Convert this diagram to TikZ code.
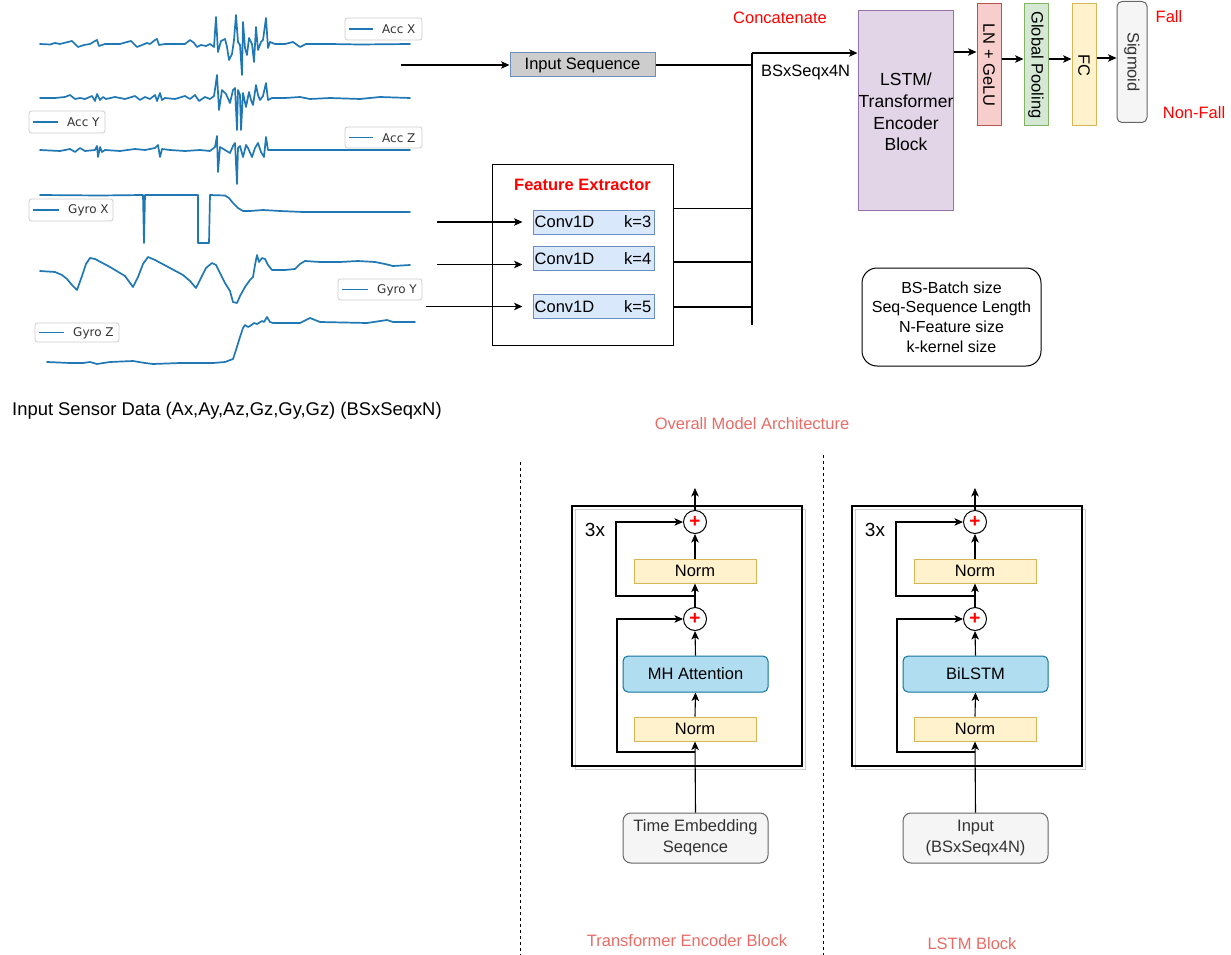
\documentclass[tikz,border=0pt]{standalone}
\usepackage{fontspec}
\setmainfont{Liberation Sans}
\newfontfamily\dejavu{DejaVu Sans}
\usetikzlibrary{arrows.meta,calc}
\definecolor{plotblue}{HTML}{1F77B4}
\definecolor{salmon}{HTML}{EA6B66}
\definecolor{dblue}{HTML}{6C8EBF}
\definecolor{lblue}{HTML}{DAE8FC}
\definecolor{ingray}{HTML}{CDCDCD}
\definecolor{purpf}{HTML}{E1D5E7}
\definecolor{purpd}{HTML}{9673A6}
\definecolor{redf}{HTML}{F8CECC}
\definecolor{redd}{HTML}{B85450}
\definecolor{greenf}{HTML}{D5E8D4}
\definecolor{greend}{HTML}{82B366}
\definecolor{yelf}{HTML}{FFF2CC}
\definecolor{yeld}{HTML}{D6B656}
\definecolor{grayf}{HTML}{F5F5F5}
\definecolor{grayd}{HTML}{666666}
\definecolor{grayt}{HTML}{333333}
\definecolor{mhf}{HTML}{B1DDF0}
\definecolor{mhd}{HTML}{10739E}
\definecolor{legd}{HTML}{CCCCCC}
\definecolor{shadowc}{HTML}{D0D0D0}
\newcommand\encblock[4]{%
\begin{scope}[xshift=#2]
\draw[shadowc, line width=1pt] (575,509) rectangle (805,769);
\draw[line width=1.1pt] (572,506) rectangle (802,766);
\node[font=\fontsize{19}{22}\selectfont] (#1three) at (595,530) {3x};
\node[plusnode] (#1p2) at (695,522) {+};
\node[normbox] (#1n2) at (695,571) {Norm};
\node[plusnode] (#1p1) at (695,619) {+};
\node[midbox] (#1mid) at (695.5,674) {#3};
\node[normbox] (#1n1) at (695,729) {Norm};
\node[inbox] (#1in) at (695.5,838) {#4};
\coordinate (#1out) at (695,488);
\coordinate (#1r1) at (695,752);
\coordinate (#1l1) at (617,752);
\coordinate (#1r2) at (695,596);
\coordinate (#1l2) at (616,596);
\draw[arr] (#1in.north) -- (#1n1.south);
\draw[arr] (#1n1.north) -- (#1mid.south);
\draw[arr] (#1mid.north) -- (#1p1.south);
\draw[arr] (#1p1.north) -- (#1n2.south);
\draw[arr] (#1n2.north) -- (#1p2.south);
\draw[arr] (#1p2.north) -- (#1out);
\draw[arr] (#1r1) -- (#1l1) |- (#1p1.west);
\draw[arr] (#1r2) -- (#1l2) |- (#1p2.west);
\end{scope}}
\newcommand\senslegend[6]{% x1 y1 x2 y2 text lineend
\draw[legd, fill=white, rounded corners=2.5, line width=0.8pt] (#1,#2) rectangle (#3,#4);
\draw[plotblue, line width=1.6pt] ($(#1,#2)!0.5!(#1,#4)+(3.5,0)$) -- ($(#6,#2)!0.5!(#6,#4)$);
\node[anchor=west, inner sep=0, font=\dejavu\fontsize{12}{14}\selectfont, text=grayt] at ($(#6,#2)!0.5!(#6,#4)+(9,0.5)$) {#5};}
\begin{document}
\begin{tikzpicture}[x=1pt,y=-1pt,
  every node/.style={font=\fontsize{16.5}{20}\selectfont},
  arr/.style={-{Stealth[length=8.5pt,width=7.5pt,inset=2.2pt]}, line width=1.1pt},
  ln/.style={line width=1.1pt},
  sig/.style={plotblue, line width=1.7pt, line join=round, line cap=round},
  sbox/.style={draw, line width=1pt, inner sep=0},
  vbox/.style={draw, line width=1pt, inner sep=0, minimum width=24, minimum height=122},
  normbox/.style={draw=yeld, fill=yelf, line width=1pt, minimum width=122, minimum height=24, inner sep=0},
  midbox/.style={draw=mhd, fill=mhf, line width=1pt, minimum width=145, minimum height=36, inner sep=0, rounded corners=5},
  inbox/.style={draw=grayd, fill=grayf, text=grayt, line width=1pt, minimum width=145, minimum height=50, inner sep=0, rounded corners=8, align=center, font=\fontsize{16.5}{21}\selectfont},
  plusnode/.style={circle, draw, fill=white, line width=1pt, minimum size=23, inner sep=0, text=red, font=\fontsize{19}{19}\selectfont\bfseries},
  convbox/.style={draw=dblue, fill=lblue, line width=1pt, minimum width=121, minimum height=24, inner sep=0},
  dsh/.style={line width=0.9pt, dash pattern=on 3pt off 3pt}
]
\useasboundingbox (0,0) rectangle (1231,955);

% ---------------- sensor plots
\draw[sig] (40,44) -- (50,44.5) -- (55,43) -- (60,44) -- (68,42) -- (72,41) -- (78,47) -- (84,45) -- (90,44) -- (95,41) -- (97,40) -- (99,46) -- (105,44) -- (120,44) -- (127,42) -- (131,41) -- (137,47) -- (142,45) -- (147,43) -- (150,44) -- (155,40) -- (157,39) -- (159,45) -- (165,44) -- (185,44) -- (190,40) -- (194,43) -- (197,47) -- (201,45) -- (206,46) -- (210,44) -- (214,47) -- (216,17) -- (218,52) -- (221,41) -- (225,39) -- (227,47) -- (229,60) -- (232,54) -- (234,40) -- (236,15) -- (238,42) -- (240,45) -- (242,75) -- (243,22) -- (245,48) -- (247,55) -- (249,38) -- (252,44) -- (254,62) -- (256,27) -- (258,50) -- (261,42) -- (263,40) -- (266,18) -- (268,48) -- (270,42) -- (275,44) -- (285,44) -- (293,42) -- (300,47) -- (306,44) -- (330,44) -- (360,44.5) -- (410,44);
\draw[sig] (40,98) -- (55,98) -- (65,97) -- (70,95) -- (75,99) -- (80,98) -- (85,99) -- (92,96) -- (95,101) -- (97,94) -- (100,100) -- (103,97) -- (106,99) -- (115,97) -- (125,99) -- (135,96) -- (140,100) -- (145,97) -- (150,99) -- (155,95) -- (157,101) -- (160,93) -- (162,100) -- (165,98) -- (175,99) -- (185,96) -- (190,99) -- (195,95) -- (199,101) -- (205,97) -- (210,99) -- (214,96) -- (217,75) -- (219,110) -- (222,90) -- (226,94) -- (230,103) -- (233,90) -- (235,88) -- (237,130) -- (238,90) -- (240,95) -- (241,130) -- (243,93) -- (246,107) -- (249,92) -- (251,100) -- (253,105) -- (256,85) -- (258,95) -- (260,100) -- (263,96) -- (266,83) -- (268,100) -- (272,98) -- (285,98) -- (300,97) -- (310,99) -- (330,98) -- (360,99) -- (380,97) -- (410,98);
\draw[sig] (40,150) -- (60,151) -- (70,149) -- (75,152) -- (80,148) -- (85,151) -- (95,150) -- (97,146) -- (98,157) -- (100,147) -- (102,152) -- (105,150) -- (120,151) -- (135,149) -- (145,150) -- (155,148) -- (158,145) -- (160,157) -- (162,149) -- (170,150) -- (185,151) -- (200,150) -- (210,151) -- (215,147) -- (217,136) -- (218,172) -- (220,147) -- (225,150) -- (230,153) -- (233,146) -- (235,143) -- (237,184) -- (238,148) -- (240,146) -- (243,157) -- (246,145) -- (248,148) -- (252,157) -- (255,148) -- (258,143) -- (261,152) -- (264,157) -- (266,137) -- (268,150) -- (272,150) -- (410,150);
\draw[sig] (40,195) -- (100,195.5) -- (143,195) -- (144,243) -- (145,195) -- (198,195) -- (198,243) -- (209,243) -- (210,195) -- (225,195.5) -- (229,198) -- (233,203) -- (238,208) -- (243,211) -- (250,211) -- (263,210) -- (280,211) -- (303,212) -- (410,212);
\draw[sig] (40,271) -- (55,272) -- (62,275) -- (67,279) -- (72,285) -- (77,290) -- (82,276) -- (86,264) -- (90,258) -- (95,259) -- (110,267) -- (125,276) -- (133,287) -- (138,277) -- (143,264) -- (148,257) -- (155,260) -- (170,268) -- (183,275) -- (190,281) -- (196,288) -- (201,278) -- (206,268) -- (212,263) -- (216,265) -- (220,273) -- (225,283) -- (230,291) -- (233,302) -- (237,303) -- (240,296) -- (245,287) -- (250,280) -- (253,277) -- (255,265) -- (257,255) -- (259,262) -- (262,258) -- (265,259) -- (268,265) -- (272,270) -- (285,270) -- (295,269) -- (300,264) -- (305,261) -- (320,262) -- (340,262) -- (358,261) -- (375,262) -- (385,264) -- (393,266) -- (410,265);
\draw[sig] (47,362) -- (70,363) -- (83,363) -- (90,362) -- (97,364) -- (110,362) -- (133,361) -- (145,363) -- (153,364) -- (180,363) -- (213,363) -- (225,362) -- (233,359) -- (236,350) -- (240,337) -- (243,328) -- (245,325) -- (248,327) -- (250,326) -- (254,323) -- (257,324) -- (262,321) -- (264,322) -- (267,317) -- (270,322) -- (273,323) -- (300,323) -- (310,318) -- (320,322) -- (367,323) -- (387,320) -- (393,322) -- (415,322);

\senslegend{345}{18}{422}{40}{Acc X}{373}
\senslegend{29}{111}{105}{133}{Acc Y}{58}
\senslegend{345}{127}{422}{148}{Acc Z}{373}
\senslegend{29}{199}{113}{221}{Gyro X}{59}
\senslegend{338}{279}{422}{300}{Gyro Y}{368}
\senslegend{35}{323}{119}{342}{Gyro Z}{64}

\node[anchor=west, inner sep=0, font=\fontsize{18.4}{22}\selectfont] (sensorlbl) at (12,411) {Input Sensor Data (Ax,Ay,Az,Gz,Gy,Gz) (BSxSeqxN)};

% ---------------- top pipeline
\node[sbox, draw=dblue, fill=ingray, minimum width=145, minimum height=24] (inseq) at (582.5,65) {Input Sequence};
\node[sbox, minimum width=181, minimum height=181] (fe) at (582.5,254.5) {};
\node[text=red, font=\fontsize{16.5}{20}\selectfont\bfseries] (fetitle) at (582.5,185) {Feature Extractor};
\node[convbox] (c3) at (593.5,222) {};
\node[convbox] (c4) at (593.5,258.5) {};
\node[convbox] (c5) at (593.5,306.5) {};
\foreach \c/\k in {c3/3,c4/4,c5/5}{
  \node[anchor=west, inner sep=0] at ([xshift=2]\c.west) {Conv1D};
  \node[anchor=east, inner sep=0] at ([xshift=-3]\c.east) {k=\k};
}
\coordinate (s0) at (401,65);
\coordinate (s3) at (437,222);
\coordinate (s4) at (437,264.5);
\coordinate (s5) at (426,306.5);
\draw[arr] (s0) -- (inseq.west);
\draw[arr] (s3) -- ([xshift=-10]c3.west);
\draw[arr] (s4) -- ([xshift=-10]c4.west |- s4);
\draw[arr] (s5) -- ([xshift=-10]c5.west);

\coordinate (bustop) at (752,53);
\coordinate (busbot) at (752,325);
\coordinate (o3) at (673,208.5);
\coordinate (o4) at (673,262);
\coordinate (o5) at (673,307);
\draw[ln] (bustop) -- (busbot);
\draw[ln] (inseq.east) -- (inseq.east -| bustop);
\foreach \o in {o3,o4,o5} \draw[ln] (\o) -- (\o -| bustop);

\node[sbox, draw=purpd, fill=purpf, minimum width=95, minimum height=199] (lstm) at (905.5,110.5) {};
\node[align=center, font=\fontsize{17.5}{21.7}\selectfont] at (906,112) {LSTM/\\Transformer\\Encoder\\Block};
\draw[arr] (bustop) -- (bustop -| lstm.west);
\node[anchor=west, inner sep=0] (bsx) at (761,72) {BSxSeqx4N};
\node[text=red] (concat) at (780,18) {Concatenate};

\node[vbox, draw=redd, fill=redf] (lnb) at (989,65) {};
\node[rotate=-90] at (lnb) {LN + GeLU};
\node[vbox, draw=greend, fill=greenf] (gp) at (1036,65) {};
\node[rotate=-90] at (gp) {Global Pooling};
\node[vbox, draw=yeld, fill=yelf] (fc) at (1084,65) {};
\node[rotate=-90] at (fc) {FC};
\node[sbox, draw=grayd, fill=grayf, minimum width=30, minimum height=121, rounded corners=5] (sigm) at (1132,62) {};
\node[rotate=-90, text=grayt] at (sigm) {Sigmoid};
\draw[arr] ([yshift=58.5]lstm.east) -- ([yshift=58.5]lstm.east -| lnb.west);
\draw[arr] ([yshift=6]lnb.east) -- ([yshift=6]lnb.east -| gp.west);
\draw[arr] ([yshift=6]gp.east) -- ([yshift=6]gp.east -| fc.west);
\draw[arr] ([yshift=7]fc.east) -- ([yshift=7]fc.east -| sigm.west);
\node[text=red] (fall) at (1169,17) {Fall};
\node[text=red] (nonfall) at (1194,113) {Non-Fall};

\node[draw, line width=1pt, rounded corners=15, minimum width=179, minimum height=98, align=center, font=\fontsize{16}{19.8}\selectfont] (legend) at (951.5,317) {BS-Batch size\\Seq-Sequence Length\\N-Feature size\\k-kernel size};

% ---------------- lower part
\node[text=salmon] (overall) at (752,424) {Overall Model Architecture};
\coordinate (d1a) at (520,462);
\coordinate (d1b) at (520,955);
\coordinate (d2a) at (823,455);
\coordinate (d2b) at (823,955);
\draw[dsh] (d1a) -- (d1b);
\draw[dsh] (d2a) -- (d2b);

\encblock{t}{0}{MH Attention}{Time Embedding\\Seqence}
\encblock{l}{280}{BiLSTM}{Input\\(BSxSeqx4N)}

\node[text=salmon] (tlabel) at (687,941) {Transformer Encoder Block};
\node[text=salmon] (llabel) at (972,944) {LSTM Block};
\end{tikzpicture}
\end{document}
